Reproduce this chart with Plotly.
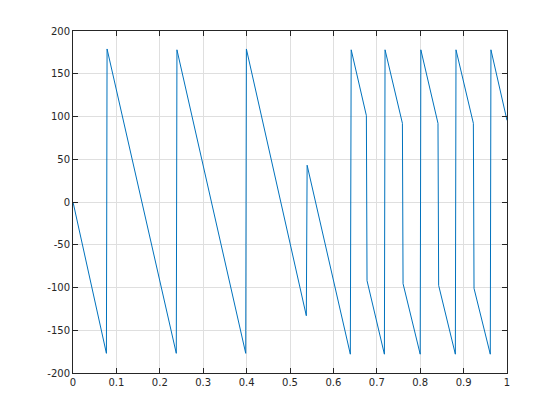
import plotly.graph_objects as go

# Vertices of the wrapped phase curve (degrees)
phase_x = [0.0, 0.077, 0.0785, 0.238, 0.2395, 0.398, 0.3995, 0.5376, 0.5395,
           0.639, 0.641, 0.676, 0.6775, 0.7175, 0.719, 0.759, 0.7605, 0.8,
           0.8015, 0.841, 0.8425, 0.881, 0.8825, 0.9225, 0.924, 0.9615,
           0.963, 1.0]
phase_deg = [0, -177, 179, -177, 178, -177, 179, -133, 43,
             -178, 178, 101, -92, -178, 178, 92, -95.5, -178,
             178, 92, -97.5, -178, 178, 92, -101, -178,
             178, 95.5]

x_tick_vals = [0, 0.1, 0.2, 0.3, 0.4, 0.5, 0.6, 0.7, 0.8, 0.9, 1]
x_tick_text = ["0", "0.1", "0.2", "0.3", "0.4", "0.5", "0.6", "0.7", "0.8", "0.9", "1"]
y_tick_vals = [-200, -150, -100, -50, 0, 50, 100, 150, 200]
y_tick_text = ["-200", "-150", "-100", "-50", "0", "50", "100", "150", "200"]

fig = go.Figure()
fig.add_trace(go.Scatter(x=phase_x, y=phase_deg, mode="lines",
                         line=dict(color="#0072BD", width=1),
                         hoverinfo="skip", showlegend=False))

axis_common = dict(
    showgrid=True, gridcolor="#dfdfdf", gridwidth=1,
    zeroline=False, showline=True, linecolor="#262626", linewidth=1,
    mirror="ticks", ticks="inside", ticklen=5, tickcolor="#262626",
    tickfont=dict(family="DejaVu Sans", size=10, color="#262626"),
)

fig.update_xaxes(range=[0, 1], tickvals=x_tick_vals, ticktext=x_tick_text, **axis_common)
fig.update_yaxes(range=[-200, 200], tickvals=y_tick_vals, ticktext=y_tick_text, **axis_common)

fig.update_layout(
    width=560, height=420,
    margin=dict(l=65, r=61, t=23, b=55),
    paper_bgcolor="white", plot_bgcolor="white",
    font=dict(family="DejaVu Sans", size=10, color="#262626"),
)

fig.write_html("out.html", config={"displayModeBar": False})
